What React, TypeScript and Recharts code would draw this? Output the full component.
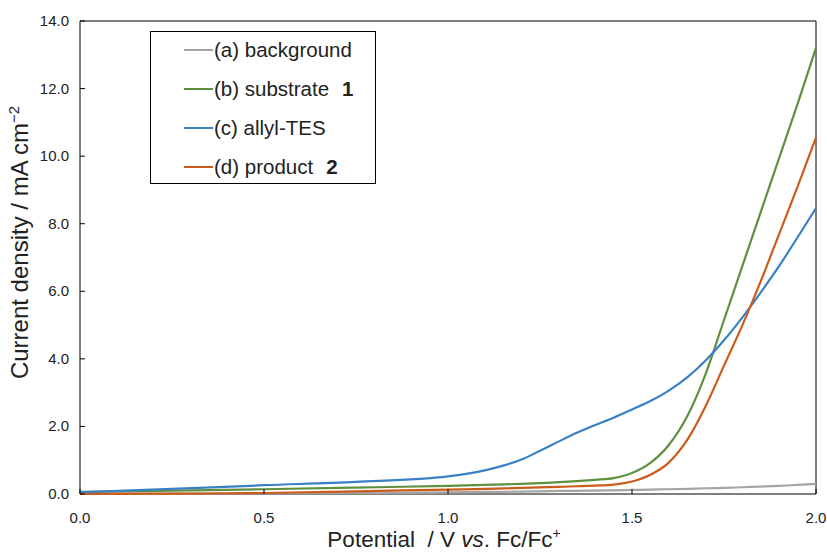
import { LineChart, Line, XAxis, YAxis, ReferenceArea, Label } from "recharts";

const potential = [0, 0.25, 0.5, 0.75, 1.0, 1.1, 1.15, 1.2, 1.25, 1.3, 1.35, 1.4, 1.45, 1.5, 1.55, 1.6, 1.65, 1.7, 1.75, 1.8, 1.85, 1.9, 1.95, 2.0];
const background = [0, 0.01, 0.02, 0.03, 0.05, 0.06, 0.065, 0.07, 0.08, 0.09, 0.095, 0.1, 0.11, 0.12, 0.13, 0.14, 0.15, 0.17, 0.18, 0.2, 0.22, 0.24, 0.27, 0.3];
const substrate = [0.06, 0.1, 0.14, 0.19, 0.24, 0.27, 0.285, 0.3, 0.32, 0.35, 0.38, 0.42, 0.47, 0.62, 0.92, 1.45, 2.3, 3.55, 5.15, 6.75, 8.35, 9.95, 11.55, 13.2];
const allylTes = [0.05, 0.15, 0.26, 0.36, 0.52, 0.7, 0.84, 1.02, 1.28, 1.55, 1.81, 2.04, 2.26, 2.5, 2.75, 3.06, 3.45, 3.95, 4.55, 5.23, 5.97, 6.75, 7.6, 8.46];
const product = [0, 0.01, 0.03, 0.08, 0.13, 0.15, 0.165, 0.18, 0.195, 0.21, 0.23, 0.25, 0.28, 0.37, 0.57, 0.93, 1.6, 2.6, 3.8, 5.0, 6.3, 7.7, 9.1, 10.55];

const xTicks = [0, 0.5, 1.0, 1.5, 2.0];
const yTicks = [0, 2, 4, 6, 8, 10, 12, 14];

const series = [
  { key: "a", label: "(a) background", bold: "", color: "#A5A5A5", values: background },
  { key: "b", label: "(b) substrate", bold: "1", color: "#5E9040", values: substrate },
  { key: "c", label: "(c) allyl-TES", bold: "", color: "#3A80C6", values: allylTes },
  { key: "d", label: "(d) product", bold: "2", color: "#CC5C1B", values: product },
];

const data = potential.map((p, i) => {
  const row: Record<string, number> = { x: p };
  series.forEach((s) => (row[s.key] = s.values[i]));
  return row;
});

const font = "'Liberation Sans', Arial, sans-serif";

function XTick(props: any) {
  const { x, y, payload } = props;
  return (
    <g>
      <line x1={x} x2={x} y1={y} y2={y - 5} stroke="#000" />
      <text x={x} y={y + 29} textAnchor="middle" fontSize={15} fill="#222" fontFamily={font}>
        {Number(payload.value).toFixed(1)}
      </text>
    </g>
  );
}

function YTick(props: any) {
  const { x, y, payload } = props;
  return (
    <g>
      <line x1={x} x2={x + 5} y1={y} y2={y} stroke="#000" />
      <text x={x - 11} y={y + 5} textAnchor="end" fontSize={15} fill="#222" fontFamily={font}>
        {Number(payload.value).toFixed(1)}
      </text>
    </g>
  );
}

export default function App() {
  return (
    <div style={{ position: "absolute", left: 0, top: 0, width: 827, height: 552, background: "#fff", fontFamily: font }}>
      <LineChart width={827} height={552} data={data} margin={{ top: 21, right: 11, bottom: 0, left: 0 }}>
        <XAxis
          dataKey="x"
          type="number"
          domain={[0, 2]}
          ticks={xTicks}
          axisLine={false}
          tickLine={false}
          tickSize={0}
          tickMargin={0}
          height={58}
          tick={<XTick />}
          interval={0}
        >
          <Label
            content={(p: any) => {
              const vb = p.viewBox;
              return (
                <text
                  x={vb.x + vb.width / 2 - 4}
                  y={vb.y + 53}
                  textAnchor="middle"
                  fontSize={22.5}
                  fill="#222"
                  fontFamily={font}
                  style={{ whiteSpace: "pre" }}
                >
                  <tspan>{"Potential  / V "}</tspan>
                  <tspan fontStyle="italic">vs</tspan>
                  <tspan>. Fc/Fc</tspan>
                  <tspan dy={-9} fontSize={14}>+</tspan>
                </text>
              );
            }}
          />
        </XAxis>
        <YAxis
          type="number"
          domain={[0, 14]}
          ticks={yTicks}
          axisLine={false}
          tickLine={false}
          tickSize={0}
          tickMargin={0}
          width={80}
          tick={<YTick />}
          interval={0}
        >
          <Label
            content={(p: any) => {
              const vb = p.viewBox;
              const cx = 28;
              const cy = vb.y + vb.height / 2 - 15;
              return (
                <text x={cx} y={cy} transform={`rotate(-90 ${cx} ${cy})`} textAnchor="middle" fontSize={24} fill="#222" fontFamily={font}>
                  <tspan>Current density / mA cm</tspan>
                  <tspan dy={-9} fontSize={15}>−2</tspan>
                </text>
              );
            }}
          />
        </YAxis>
        <ReferenceArea x1={0} x2={2} y1={0} y2={14} fill="none" stroke="#000" strokeWidth={1} />
        {series.map((s) => (
          <Line
            key={s.key}
            dataKey={s.key}
            type="monotone"
            stroke={s.color}
            strokeWidth={2.2}
            dot={false}
            isAnimationActive={false}
          />
        ))}
      </LineChart>
      <div
        style={{
          position: "absolute",
          left: 150,
          top: 31,
          width: 224,
          height: 151,
          border: "1px solid #000",
          background: "#fff",
          fontSize: 20.5,
          color: "#222",
        }}
      >
        {series.map((s, i) => (
          <div key={s.key} style={{ position: "absolute", left: 33, top: 6 + i * 39, height: 24, display: "flex", alignItems: "center", whiteSpace: "nowrap" }}>
            <span style={{ display: "inline-block", width: 29, height: 2, background: s.color, marginRight: 1 }} />
            <span>{s.label}</span>
            {s.bold && <span style={{ fontWeight: "bold", marginLeft: 13 }}>{s.bold}</span>}
          </div>
        ))}
      </div>
    </div>
  );
}
